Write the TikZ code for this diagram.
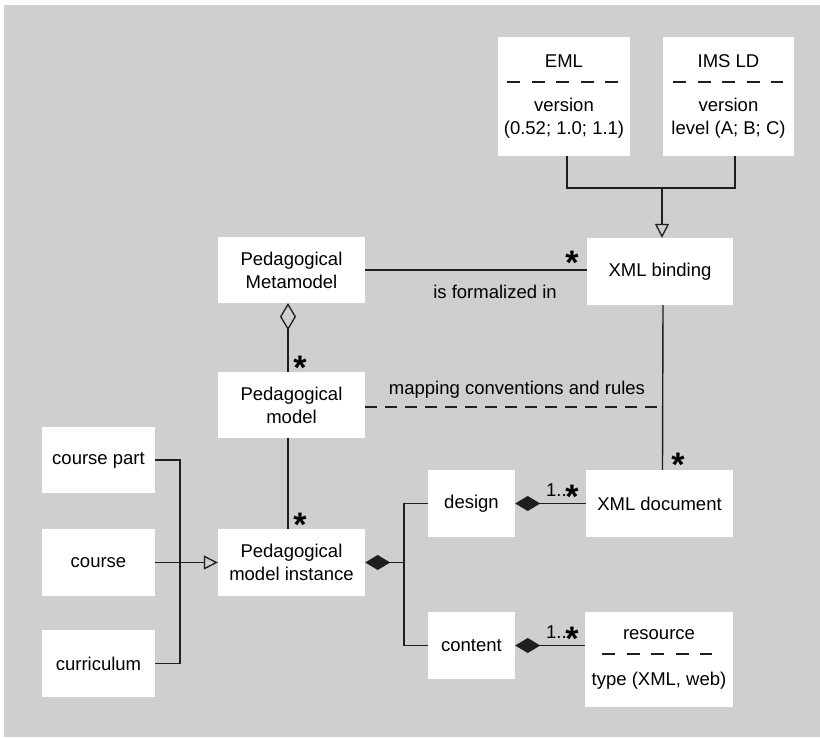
\documentclass[tikz,border=0pt]{standalone}
\usepackage{fontspec}
\setmainfont{Liberation Sans}
\usetikzlibrary{arrows.meta,calc}
\definecolor{bg}{HTML}{CFCFCF}
\definecolor{ln}{HTML}{1E1E1E}
\begin{document}
\begin{tikzpicture}[x=1pt,y=-1pt,
  box/.style={fill=white,inner sep=0pt,align=center,font=\fontsize{18.5}{23}\selectfont},
  lbl/.style={inner sep=0pt,font=\fontsize{18.5}{23}\selectfont},
  umlstar/.style={inner sep=0pt,anchor=base,font=\fontsize{34}{34}\selectfont\bfseries},
  conn/.style={draw=ln,line width=1.4pt},
  sepline/.style={draw=ln,line width=1.3pt,dash pattern=on 13pt off 11.5pt},
  gen/.style={conn,-{Triangle[open,length=14pt,width=14pt,line width=1.3pt]}},
  aggr/.style={conn,{Diamond[open,length=27pt,width=16pt,line width=1.3pt]}-},
  comp/.style={conn,{Diamond[length=25pt,width=15pt]}-}
]
\useasboundingbox (0,0) rectangle (820,737);
\fill[bg] (4,5) rectangle (820,737);

% boxes
\node[box,minimum width=132pt,minimum height=119pt] (eml) at (564,96.5) {EML\\[21pt]version\\(0.52; 1.0; 1.1)};
\node[box,minimum width=131pt,minimum height=119pt] (ims) at (728.5,96.5) {IMS LD\\[21pt]version\\level (A; B; C)};
\node[box,minimum width=146pt,minimum height=67pt] (xmlb) at (660,271.5) {XML binding};
\node[box,minimum width=147pt,minimum height=66pt] (pmm) at (291.5,270) {Pedagogical\\Metamodel};
\node[box,minimum width=147pt,minimum height=66pt] (pm) at (291.5,405) {Pedagogical\\model};
\node[box,minimum width=147pt,minimum height=67pt] (pmi) at (291.5,562.5) {Pedagogical\\model instance};
\node[box,minimum width=113pt,minimum height=66pt] (cpart) at (98.5,460) {course part};
\node[box,minimum width=113pt,minimum height=67pt] (course) at (98.5,562.5) {course};
\node[box,minimum width=113pt,minimum height=67pt] (curr) at (98.5,663.5) {curriculum};
\node[box,minimum width=87pt,minimum height=67pt] (design) at (471.5,503.5) {design};
\node[box,minimum width=87pt,minimum height=67pt] (content) at (471.5,645.5) {content};
\node[box,minimum width=147pt,minimum height=67pt] (xmld) at (659.5,503.5) {XML document};
\node[box,minimum width=148pt,minimum height=95pt] (res) at (659,659.5) {resource\\[23pt]type (XML, web)};

% separator dashes inside class boxes
\draw[sepline] (507,82) -- (618,82);
\draw[sepline] (673,82) -- (783,82);
\draw[sepline] (602,654) -- (712,654);

% generalisation EML / IMS LD -> XML binding
\coordinate (j) at (662,188);
\draw[conn] ([xshift=3pt]eml.south) |- (j);
\draw[conn] ([xshift=6.5pt]ims.south) |- (j);
\draw[gen] (j) -- (j |- xmlb.north);

% is formalized in
\draw[conn] (pmm.east) -- (pmm.east -| xmlb.west);
\node[umlstar] (s1) at (572,274) {*};
\node[lbl] (formal) at (495,292) {is formalized in};

% aggregation metamodel - model
\draw[aggr] ([xshift=-3.5pt]pmm.south) -- ([xshift=-3.5pt]pm.north);
\node[umlstar] (s2) at (300,379) {*};

% mapping conventions
\coordinate (m) at (663,407);
\draw[conn,dash pattern=on 12pt off 8pt] ([yshift=-2pt]pm.east) -- (m);
\node[lbl] (mapping) at (517,390) {mapping conventions and rules};

% XML binding -> XML document
\draw[conn] ([xshift=3pt]xmlb.south) -- ([xshift=3pt]xmld.north);
\node[umlstar] (s3) at (678,476) {*};

% model -> instance
\draw[conn] ([xshift=-3.5pt]pm.south) -- ([xshift=-3.5pt]pmi.north);
\node[umlstar] (s4) at (300,536) {*};

% generalisation course part / course / curriculum -> instance
\coordinate (g) at (180,562.5);
\draw[conn] (cpart.east) -| (g) |- (curr.east);
\draw[gen] (course.east) -- (pmi.west);

% composition instance -> design / content
\coordinate (k) at (404,562.5);
\draw[comp] (pmi.east) -- (k);
\draw[conn] (k) |- (design.west);
\draw[conn] (k) |- (content.west);

% design - XML document
\draw[comp] (design.east) -- (xmld.west);
\node[lbl,anchor=base west] (m1) at (546,496) {1..};
\node[umlstar] (s5) at (572,508) {*};

% content - resource
\draw[comp] (content.east) -- (content.east -| res.west);
\node[lbl,anchor=base west] (m2) at (546,638) {1..};
\node[umlstar] (s6) at (572,650) {*};
\end{tikzpicture}
\end{document}
